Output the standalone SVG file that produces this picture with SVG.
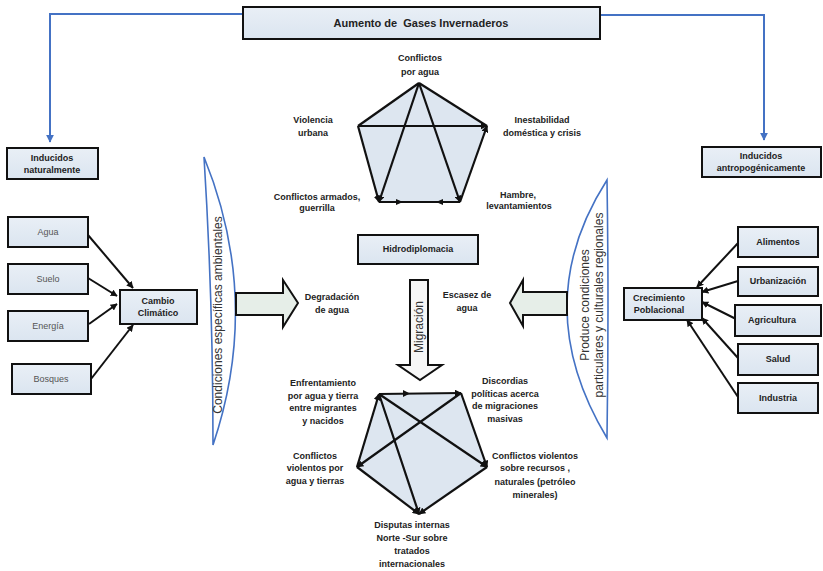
<svg xmlns="http://www.w3.org/2000/svg" width="823" height="571" viewBox="0 0 823 571">
<defs>
<marker id="ah" viewBox="0 0 10 10" refX="9" refY="5" markerWidth="7" markerHeight="7" markerUnits="userSpaceOnUse" orient="auto"><path d="M0,0 L10,5 L0,10 Z" fill="#111"/></marker>
<marker id="bh" viewBox="0 0 10 10" refX="9" refY="5" markerWidth="8" markerHeight="8" markerUnits="userSpaceOnUse" orient="auto"><path d="M0,0 L10,5 L0,10 Z" fill="#4472c4"/></marker>
<linearGradient id="bf" x1="0" y1="0" x2="0" y2="1"><stop offset="0" stop-color="#e9eff6"/><stop offset="1" stop-color="#dbe5f0"/></linearGradient>
</defs>
<style>
.box{fill:url(#bf);stroke:#111;stroke-width:2}
.t{font-family:"Liberation Sans",Arial,sans-serif;font-size:9px;font-weight:bold;fill:#222;text-anchor:middle}
.g{font-family:"Liberation Sans",Arial,sans-serif;font-size:9px;fill:#555;text-anchor:middle}
.lt{font-family:"Liberation Sans",Arial,sans-serif;font-size:12px;fill:#333;text-anchor:middle}
.ttl{font-family:"Liberation Sans",Arial,sans-serif;font-size:11px;font-weight:bold;fill:#222;text-anchor:middle;white-space:pre}
.c{stroke:#111;stroke-width:2;fill:none;marker-end:url(#ah)}
.b{stroke:#4472c4;stroke-width:2;fill:none}
.p{stroke:#111;stroke-width:2.2;fill:none}
.blk{fill:#e6eee8;stroke:#111;stroke-width:2}
.blkw{fill:#f7f7f7;stroke:#111;stroke-width:2}
.lens{fill:#fff;stroke:#4472c4;stroke-width:1.6}
</style>
<rect width="823" height="571" fill="#fff"/>

<g id="connectors">
<polyline class="b" points="243,14 50,14 50,142" marker-end="url(#bh)"/>
<polyline class="b" points="600,15 764,15 764,140" marker-end="url(#bh)"/>
<line class="c" x1="88" y1="235" x2="133" y2="288"/>
<line class="c" x1="88" y1="278" x2="117" y2="296"/>
<line class="c" x1="89" y1="324" x2="117" y2="304"/>
<line class="c" x1="91" y1="379" x2="133" y2="325"/>
<line class="c" x1="739" y1="242" x2="697" y2="287"/>
<line class="c" x1="738" y1="281" x2="702" y2="292"/>
<line class="c" x1="738" y1="320" x2="702" y2="302"/>
<line class="c" x1="738" y1="358" x2="702" y2="318"/>
<line class="c" x1="738" y1="397" x2="687" y2="320"/>
</g>

<g id="title">
<rect class="box" x="243" y="7" width="357" height="32"/>
<text class="ttl" x="421" y="27">Aumento de  Gases Invernaderos</text>
</g>

<g id="inducidos-nat">
<rect class="box" x="7" y="148" width="91" height="31"/>
<text class="t" x="52" y="161">Inducidos</text>
<text class="t" x="52" y="173">naturalmente</text>
</g>
<g id="inducidos-antro">
<rect class="box" x="702" y="147" width="119" height="30"/>
<text class="t" x="761" y="159">Inducidos</text>
<text class="t" x="761" y="171">antropogénicamente</text>
</g>

<g id="agua"><rect class="box" x="8" y="217" width="80" height="30"/><text class="g" x="48" y="235">Agua</text></g>
<g id="suelo"><rect class="box" x="8" y="264" width="80" height="30"/><text class="g" x="48" y="282">Suelo</text></g>
<g id="energia"><rect class="box" x="8" y="311" width="80" height="30"/><text class="g" x="48" y="329">Energía</text></g>
<g id="bosques"><rect class="box" x="12" y="364" width="79" height="30"/><text class="g" x="51" y="382">Bosques</text></g>

<g id="cambio">
<rect class="box" x="120" y="290" width="77" height="34"/>
<text class="t" x="158" y="304">Cambio</text>
<text class="t" x="158" y="316">Climático</text>
</g>

<g id="crecimiento">
<rect class="box" x="624" y="288" width="78" height="32"/>
<text class="t" x="659" y="301">Crecimiento</text>
<text class="t" x="659" y="313">Poblacional</text>
</g>
<g id="alimentos"><rect class="box" x="738" y="227" width="80" height="30"/><text class="t" x="778" y="245">Alimentos</text></g>
<g id="urbanizacion"><rect class="box" x="738" y="267" width="80" height="29"/><text class="t" x="778" y="284">Urbanización</text></g>
<g id="agricultura"><rect class="box" x="735" y="305" width="86" height="31"/><text class="t" x="772" y="323">Agricultura</text></g>
<g id="salud"><rect class="box" x="738" y="344" width="80" height="31"/><text class="t" x="778" y="362">Salud</text></g>
<g id="industria"><rect class="box" x="738" y="383" width="80" height="30"/><text class="t" x="778" y="401">Industria</text></g>

<g id="hidrodiplomacia">
<rect class="box" x="358" y="235" width="120" height="29"/>
<text class="t" x="418" y="252">Hidrodiplomacia</text>
</g>

<g id="lens-left">
<path class="lens" d="M204,157 Q262,300 213,445 Q213,300 204,157 Z"/>
<text class="lt" transform="translate(222,315) rotate(-90)">Condiciones específicas ambientales</text>
</g>
<g id="lens-right">
<path class="lens" d="M607,180 Q527,305 607,438 Q609,305 607,180 Z"/>
<text class="lt" transform="translate(589,305) rotate(-90)">Produce condiciones</text>
<text class="lt" transform="translate(603,305) rotate(-90)">particulares y culturales regionales</text>
</g>

<g id="arrow-degradacion">
<path class="blk" d="M236,293 H283 V280 L298,303 L283,327 V315 H236 Z"/>
</g>
<g id="arrow-escasez">
<path class="blk" d="M567,292 H523 V280 L510,303 L523,326 V315 H567 Z"/>
</g>
<g id="arrow-migracion">
<path class="blkw" d="M410,280 H428 V365 H442 L420,380 L398,365 H410 Z"/>
<text class="lt" transform="translate(423,327) rotate(-90)">Migración</text>
</g>

<g id="labels-mid">
<text class="t" x="332" y="300">Degradación</text>
<text class="t" x="332" y="313">de agua</text>
<text class="t" x="467" y="298">Escasez de</text>
<text class="t" x="467" y="311">agua</text>
</g>

<g id="pentagon-top">
<polygon points="419,83 487,126 460,202 379,202 358,126" fill="#dde6f0"/>
<line class="p" x1="419" y1="83" x2="358" y2="126"/>
<line class="p" x1="419" y1="83" x2="487" y2="126"/>
<line class="p" x1="358" y1="126" x2="487" y2="126" marker-end="url(#ah)"/>
<line class="p" x1="358" y1="126" x2="379" y2="202" marker-end="url(#ah)"/>
<line class="p" x1="460" y1="202" x2="487" y2="126" marker-end="url(#ah)"/>
<line class="p" x1="379" y1="202" x2="460" y2="202"/>
<line class="p" x1="419" y1="83" x2="379" y2="202" marker-end="url(#ah)"/>
<line class="p" x1="419" y1="83" x2="460" y2="202" marker-end="url(#ah)"/>
<path d="M396,199 L403,202 L396,205 Z M443,199 L436,202 L443,205 Z" fill="#111"/>
<text class="t" x="420" y="61">Conflictos</text>
<text class="t" x="420" y="75">por agua</text>
<text class="t" x="313" y="123">Violencia</text>
<text class="t" x="313" y="136">urbana</text>
<text class="t" x="542" y="123">Inestabilidad</text>
<text class="t" x="542" y="136">doméstica y crisis</text>
<text class="t" x="317" y="200">Conflictos armados,</text>
<text class="t" x="317" y="211">guerrilla</text>
<text class="t" x="518" y="198">Hambre,</text>
<text class="t" x="519" y="209">levantamientos</text>
</g>

<g id="pentagon-bottom">
<polygon points="379,394 461,393 487,467 419,514 357,467" fill="#dde6f0"/>
<line class="p" x1="379" y1="394" x2="461" y2="393" marker-end="url(#ah)"/>
<line class="p" x1="461" y1="393" x2="487" y2="467" marker-end="url(#ah)"/>
<line class="p" x1="487" y1="467" x2="419" y2="514" marker-end="url(#ah)"/>
<line class="p" x1="357" y1="467" x2="419" y2="514" marker-end="url(#ah)"/>
<line class="p" x1="357" y1="467" x2="379" y2="394" marker-end="url(#ah)"/>
<line class="p" x1="379" y1="394" x2="487" y2="467" marker-end="url(#ah)"/>
<line class="p" x1="379" y1="394" x2="419" y2="514" marker-end="url(#ah)"/>
<line class="p" x1="461" y1="393" x2="357" y2="467" marker-end="url(#ah)"/>
<path d="M403,390 L410,393.5 L403,397 Z" fill="#111"/>
<text class="t" x="323" y="386">Enfrentamiento</text>
<text class="t" x="323" y="399">por agua y tierra</text>
<text class="t" x="323" y="411">entre migrantes</text>
<text class="t" x="323" y="424">y nacidos</text>
<text class="t" x="505" y="384">Discordias</text>
<text class="t" x="505" y="397">políticas acerca</text>
<text class="t" x="505" y="409">de migraciones</text>
<text class="t" x="505" y="422">masivas</text>
<text class="t" x="315" y="459">Conflictos</text>
<text class="t" x="315" y="471">violentos por</text>
<text class="t" x="315" y="484">agua y tierras</text>
<text class="t" x="535" y="459">Conflictos violentos</text>
<text class="t" x="535" y="471">sobre recursos ,</text>
<text class="t" x="535" y="485">naturales (petróleo</text>
<text class="t" x="535" y="498">minerales)</text>
<text class="t" x="412" y="528">Disputas internas</text>
<text class="t" x="412" y="541">Norte -Sur sobre</text>
<text class="t" x="412" y="554">tratados</text>
<text class="t" x="412" y="567">internacionales</text>
</g>
</svg>
